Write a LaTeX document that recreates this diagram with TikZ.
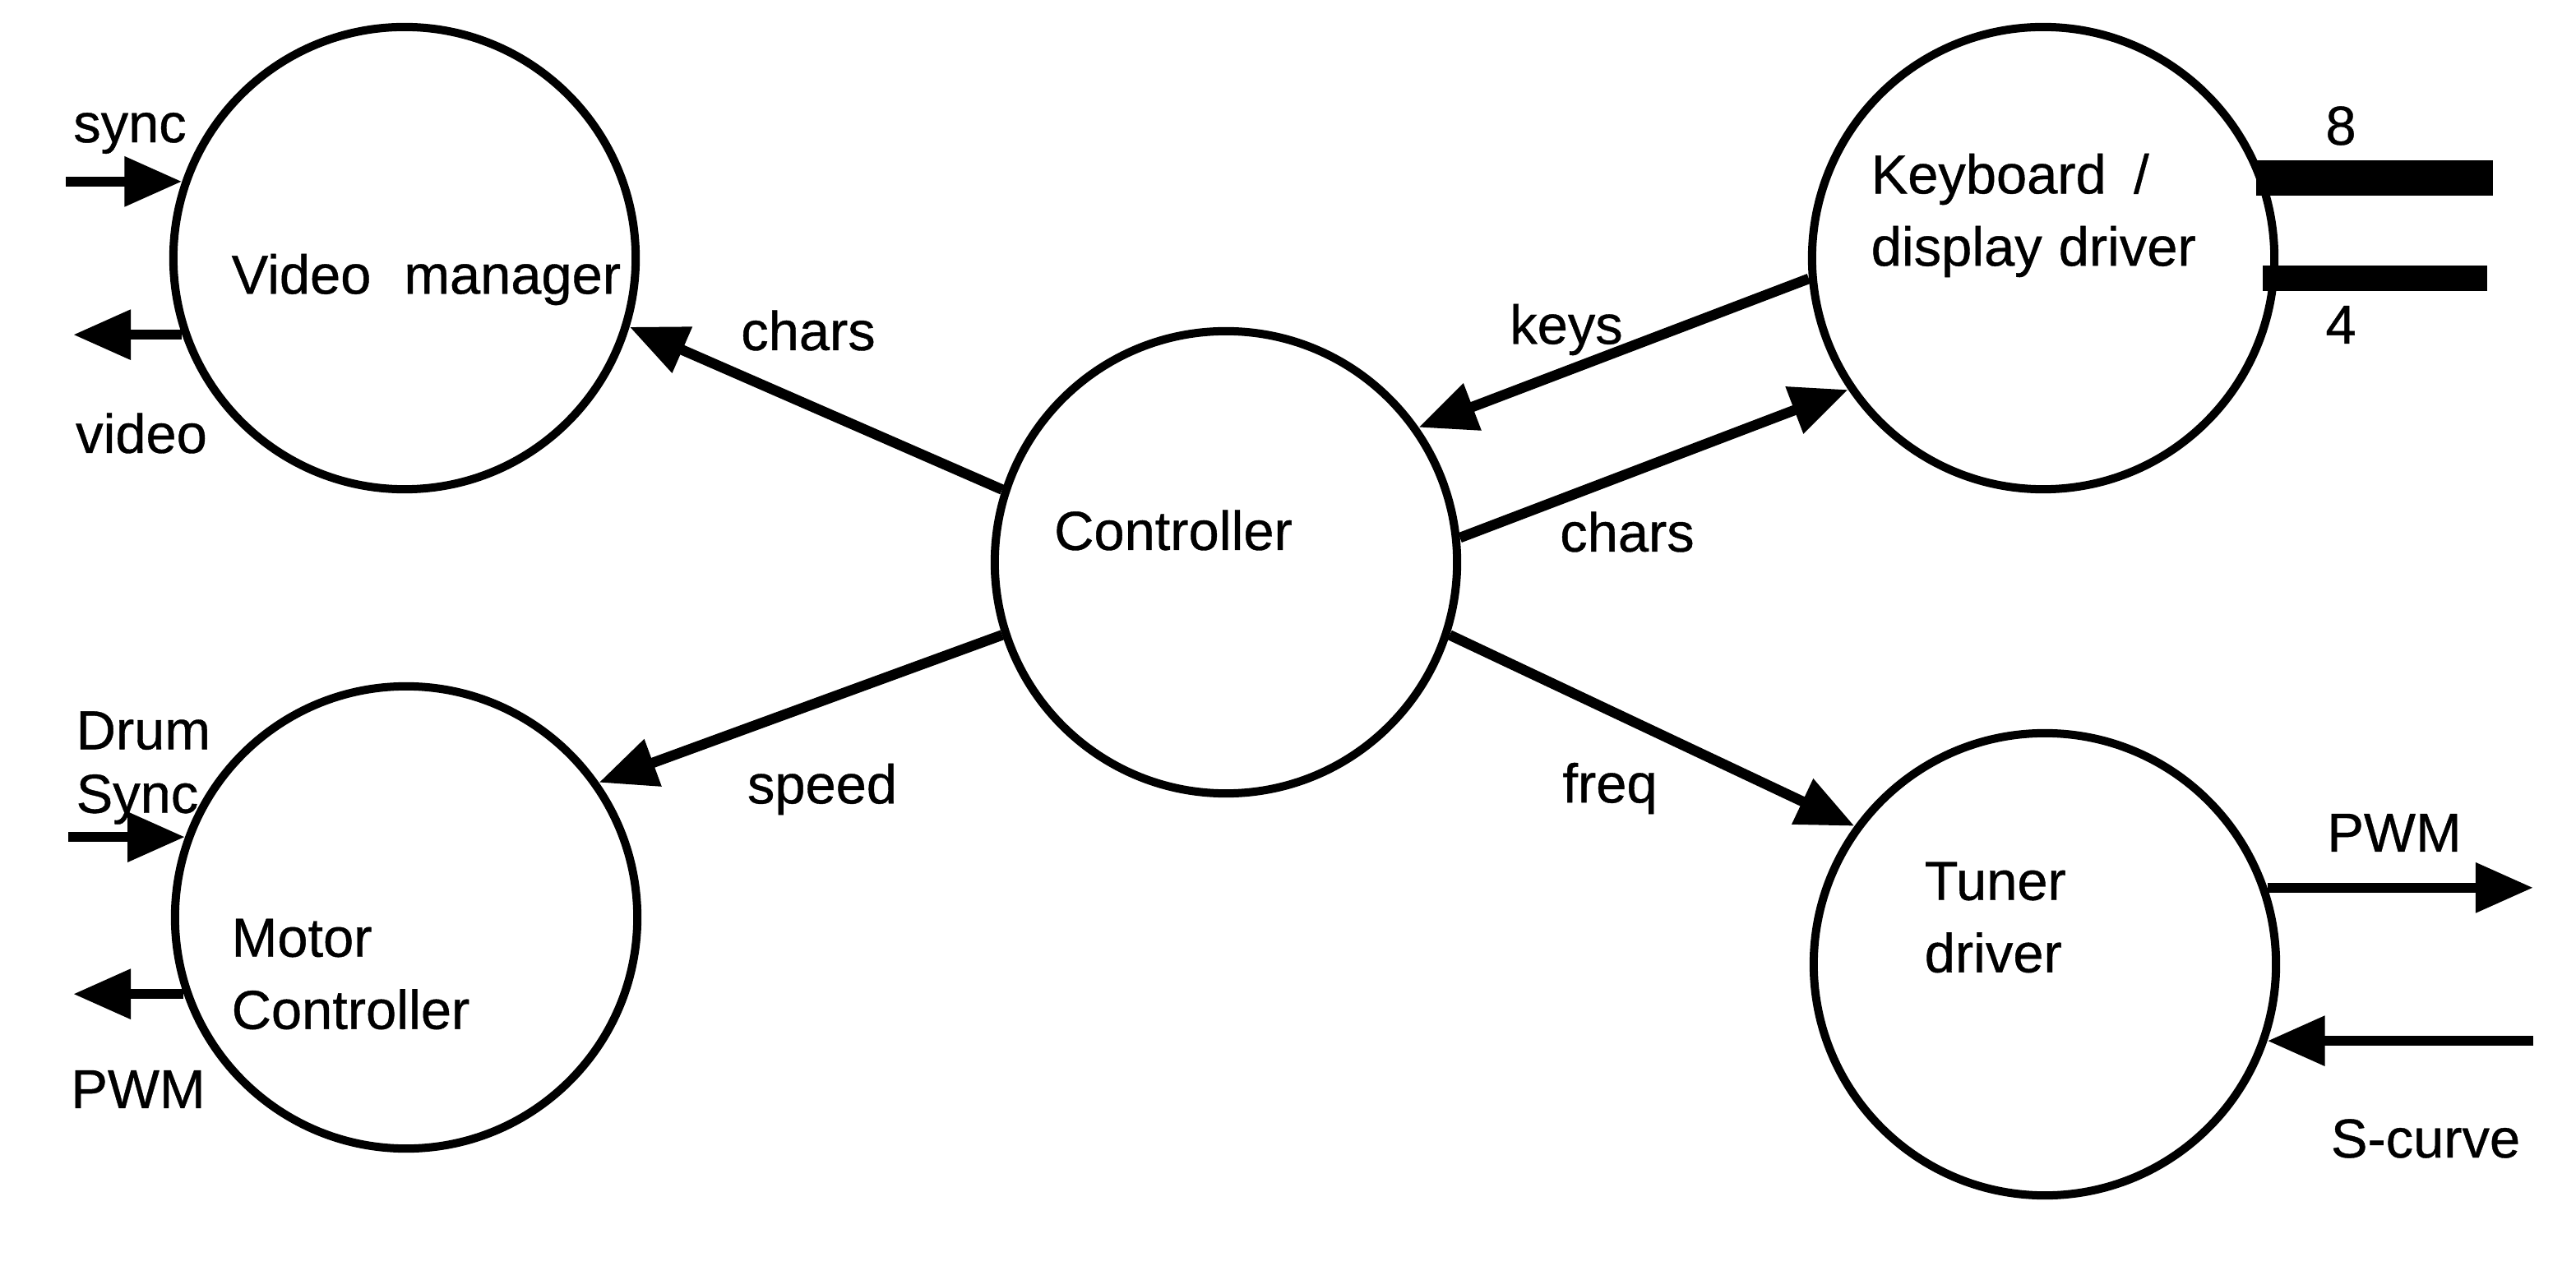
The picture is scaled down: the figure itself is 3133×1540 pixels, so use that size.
\documentclass[tikz,border=0pt]{standalone}
\usepackage{fontspec}
\setmainfont{Liberation Sans}[FakeBold=0.6]
\usetikzlibrary{arrows.meta,positioning}
\tikzset{
  bubble/.style={circle,draw=black,line width=1mm,minimum size=5.62cm,inner sep=0pt},
  flow/.style={line width=1.25mm,-{Triangle[length=7mm,width=5.8mm]}},
  tag/.style={inner sep=0pt,font=\fontsize{19}{25}\selectfont},
  bus/.style={line width=#1},
}

\begin{document}
\begin{tikzpicture}[x=0.01cm,y=-0.01cm]
  \useasboundingbox (0,0) rectangle (3133,1540);
  % processes
  \foreach \name/\cx/\cy in {vm/492/314,ctrl/1491/684,kbd/2485/314,motor/494/1116,tuner/2487/1173}{
    \node[bubble] (\name) at (\cx,\cy) {};
  }
  \node[tag,anchor=west] (vmname) at (281,340) {Video\hspace{0.6em}manager};
  \node[tag] (ctrlname) at (1427,645) {Controller};
  \node[tag,anchor=west,align=left] (kbdname) at (2275,262) {Keyboard\hspace{0.5em}/\\display\hspace{0.3em}driver};
  \node[tag,anchor=west,align=left] (motorname) at (281,1185) {Motor\\Controller};
  \node[tag,anchor=west,align=left] (tunername) at (2340,1116) {Tuner\\driver};

  % flows between processes
  \draw[flow] (ctrl.162) -- (vm.-17.5);
  \draw[flow] (ctrl.198) -- (motor.35.5);
  \draw[flow] (kbd.185) -- (ctrl.35);
  \draw[flow] (ctrl.6) -- (kbd.214.7);
  \draw[flow] (ctrl.-18) -- (tuner.144);
  \node[tag] (charsvm) at (983,402) {chars};
  \node[tag] (speed) at (1000,960) {speed};
  \node[tag] (keys) at (1905,401) {keys};
  \node[tag] (charskbd) at (1979,647) {chars};
  \node[tag] (freq) at (1958,959) {freq};

  % outside signals
  \coordinate (syncin) at (80,224);
  \coordinate (videoout) at (89,406);
  \coordinate (drumin) at (83,1022);
  \coordinate (pwmout) at (89,1209);
  \coordinate (pwmtune) at (3081,1081);
  \coordinate (scurvein) at (3081,1264);
  \coordinate (busend8) at (3032,218);
  \coordinate (busend4) at (3025,340);
  \draw[flow] (syncin |- vm.161) -- (vm.161);
  \draw[flow] (vm.199) -- (videoout |- vm.199);
  \draw[flow] (drumin |- motor.160.5) -- (motor.160.5);
  \draw[flow] (motor.199.5) -- (pwmout |- motor.199.5);
  \draw[flow] (tuner.19) -- (pwmtune |- tuner.19);
  \draw[flow] (scurvein |- tuner.-19) -- (tuner.-19);
  \draw[bus=4.3mm] ([xshift=-1mm]kbd.20) -- (busend8 |- kbd.20);
  \draw[bus=3.1mm] ([xshift=-1.8mm]kbd.-5) -- (busend4 |- kbd.-5);

  \node[tag] (lsync) at (158,162) {sync};
  \node[tag] (lvideo) at (172,527) {video};
  \node[tag,anchor=west,align=left] (ldrum) at (92,934) {Drum\\[-3pt]Sync};
  \node[tag] (lpwm) at (168,1325) {PWM};
  \node[tag] (lpwmtune) at (2912,1013) {PWM};
  \node[tag] (lscurve) at (2950,1385) {S-curve};
  \node[tag] (leight) at (2847,153) {8};
  \node[tag] (lfour) at (2847,395) {4};
\end{tikzpicture}
\end{document}
